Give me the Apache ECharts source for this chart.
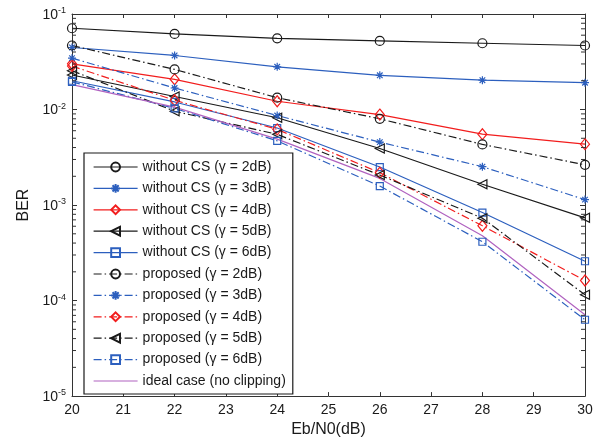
<!DOCTYPE html>
<html>
<head>
<meta charset="utf-8">
<script src="https://cdn.jsdelivr.net/npm/echarts@6/dist/echarts.min.js"></script>
<style>
html,body{margin:0;padding:0;background:#fff;}
#chart{width:605px;height:443px;}
</style>
</head>
<body>
<div id="chart"></div>
<script>
// ---- data ----
const snr = [20, 22, 24, 26, 28, 30];
const withoutCS2 = [0.0709, 0.0619, 0.0557, 0.0523, 0.0494, 0.0468];
const withoutCS3 = [0.0446, 0.0368, 0.0280, 0.0228, 0.0203, 0.0191];
const withoutCS4 = [0.0301, 0.0207, 0.0122, 0.00885, 0.00552, 0.00434];
const withoutCS5 = [0.0230, 0.0137, 0.0082, 0.00391, 0.00165, 0.000735];
const withoutCS6 = [0.0200, 0.0120, 0.0064, 0.0025, 0.000835, 0.000258];
const proposed2 = [0.0468, 0.0263, 0.0133, 0.0080, 0.00431, 0.00264];
const proposed3 = [0.0345, 0.0168, 0.00865, 0.00456, 0.00252, 0.00114];
const proposed4 = [0.0285, 0.0125, 0.0062, 0.00218, 0.000607, 0.000162];
const proposed5 = [0.0255, 0.0096, 0.0055, 0.00206, 0.000729, 0.000115];
const proposed6 = [0.0195, 0.0103, 0.0047, 0.00158, 0.000413, 0.000063];
const ideal = [0.0182, 0.0106, 0.0049, 0.0019, 0.000477, 0.0000712];
const seriesNames = [
  'without CS (γ = 2dB)', 'without CS (γ = 3dB)', 'without CS (γ = 4dB)',
  'without CS (γ = 5dB)', 'without CS (γ = 6dB)',
  'proposed (γ = 2dB)', 'proposed (γ = 3dB)', 'proposed (γ = 4dB)',
  'proposed (γ = 5dB)', 'proposed (γ = 6dB)', 'ideal case (no clipping)'
];
const xTicks = [20, 21, 22, 23, 24, 25, 26, 27, 28, 29, 30];
const yMin = 1e-5, yMax = 1e-1;
const minorTickValues = [];
for (let e = -5; e <= -2; e++) for (let k = 2; k <= 9; k++) minorTickValues.push(k * Math.pow(10, e));

// ---- style ----
const FONT = "'Liberation Sans', Arial, sans-serif";
const BLACK = '#1a1a1a', BLUE = '#2c5fbe', RED = '#f21d1d', PURPLE = '#b063c0';
const DASHDOT = [8, 3, 1.5, 3];
const STAR = 'path://M5,0L5,10M0,5L10,5M1.5,1.5L8.5,8.5M1.5,8.5L8.5,1.5';
const TRI_LEFT = 'path://M0,5L10,0L10,10Z';

function mk(name, data, color, symbol, size, dashed, markers) {
  return {
    name: name, type: 'line', xAxisIndex: 0, yAxisIndex: 0,
    data: snr.map((x, i) => [x, data[i]]),
    symbol: symbol, symbolSize: size, showSymbol: markers,
    lineStyle: { color: color, width: 1.2, type: dashed ? DASHDOT : 'solid' },
    itemStyle: { color: 'rgba(255,255,255,0)', borderColor: color, borderWidth: 1.2 },
    emphasis: { disabled: true }, animation: false, z: 3
  };
}

const series = [
  mk(seriesNames[0], withoutCS2, BLACK, 'circle', 9, false, true),
  mk(seriesNames[1], withoutCS3, BLUE, STAR, 8, false, true),
  mk(seriesNames[2], withoutCS4, RED, 'diamond', [9, 11], false, true),
  mk(seriesNames[3], withoutCS5, BLACK, TRI_LEFT, 9, false, true),
  mk(seriesNames[4], withoutCS6, BLUE, 'rect', 7, false, true),
  mk(seriesNames[5], proposed2, BLACK, 'circle', 9, true, true),
  mk(seriesNames[6], proposed3, BLUE, STAR, 8, true, true),
  mk(seriesNames[7], proposed4, RED, 'diamond', [9, 11], true, true),
  mk(seriesNames[8], proposed5, BLACK, TRI_LEFT, 9, true, true),
  mk(seriesNames[9], proposed6, BLUE, 'rect', 7, true, true),
  mk(seriesNames[10], ideal, PURPLE, 'circle', 0, false, false)
];

// minor log ticks (left and right edges), placed through the axis scales
series.push({
  type: 'custom', xAxisIndex: 0, yAxisIndex: 0, silent: true, clip: false, z: 4,
  data: minorTickValues.map(v => [snr[0], v]),
  renderItem: function (params, api) {
    const v = api.value(1);
    const l = api.coord([xTicks[0], v]);
    const r = api.coord([xTicks[xTicks.length - 1], v]);
    const st = { stroke: '#333', lineWidth: 1 };
    return { type: 'group', children: [
      { type: 'line', shape: { x1: l[0], y1: l[1], x2: l[0] + 4, y2: l[1] }, style: st },
      { type: 'line', shape: { x1: r[0], y1: r[1], x2: r[0] - 4, y2: r[1] }, style: st }
    ]};
  }
});

const legendData = seriesNames.map((n, i) => i === 10
  ? { name: n, itemStyle: { color: 'rgba(0,0,0,0)', borderColor: 'rgba(0,0,0,0)', borderWidth: 0 } }
  : { name: n });

const axisLine = { show: true, lineStyle: { color: '#333', width: 1 } };
const chart = echarts.init(document.getElementById('chart'), null, { renderer: 'canvas' });
chart.setOption({
  animation: false,
  backgroundColor: '#fff',
  textStyle: { fontFamily: FONT },
  grid: { left: 72, right: 20, top: 14, bottom: 45, containLabel: false },
  xAxis: [{
    type: 'value', min: xTicks[0], max: xTicks[xTicks.length - 1], interval: 1, position: 'bottom',
    name: 'Eb/N0(dB)', nameLocation: 'middle', nameGap: 22,
    nameTextStyle: { fontFamily: FONT, fontSize: 16, color: '#1a1a1a' },
    axisLine: axisLine, splitLine: { show: false },
    axisTick: { inside: true, length: 4, lineStyle: { color: '#333' } },
    axisLabel: { fontFamily: FONT, fontSize: 14, color: '#1a1a1a', margin: 7 }
  }, {
    type: 'value', min: xTicks[0], max: xTicks[xTicks.length - 1], interval: 1, position: 'top',
    axisLine: axisLine, splitLine: { show: false },
    axisTick: { inside: true, length: 4, lineStyle: { color: '#333' } },
    axisLabel: { show: false }
  }],
  yAxis: [{
    type: 'log', logBase: 10, min: yMin, max: yMax, position: 'left',
    name: 'BER', nameLocation: 'middle', nameGap: 38, nameRotate: 90,
    nameTextStyle: { fontFamily: FONT, fontSize: 16, color: '#1a1a1a' },
    axisLine: axisLine, splitLine: { show: false },
    axisTick: { inside: true, length: 5, lineStyle: { color: '#333' } },
    axisLabel: {
      margin: 6,
      formatter: function (v) { return '{b|10}{s|' + Math.round(Math.log10(v)) + '}'; },
      rich: {
        b: { fontFamily: FONT, fontSize: 14, color: '#1a1a1a', lineHeight: 16, verticalAlign: 'bottom' },
        s: { fontFamily: FONT, fontSize: 9, color: '#1a1a1a', lineHeight: 10, verticalAlign: 'top' }
      }
    }
  }, {
    type: 'log', logBase: 10, min: yMin, max: yMax, position: 'right',
    axisLine: axisLine, splitLine: { show: false },
    axisTick: { inside: true, length: 5, lineStyle: { color: '#333' } },
    axisLabel: { show: false }
  }],
  legend: {
    data: legendData,
    orient: 'vertical', left: 84, top: 153,
    backgroundColor: '#fff', borderColor: '#1a1a1a', borderWidth: 1.2, borderRadius: 0,
    padding: [6, 7, 5, 9],
    itemWidth: 44, itemHeight: 11, itemGap: 5.4,
    lineStyle: { width: 1.2 },
    textStyle: { fontFamily: FONT, fontSize: 14, color: '#1a1a1a', lineHeight: 16 },
    selectedMode: false, z: 10
  },
  series: series
});
</script>
</body>
</html>
